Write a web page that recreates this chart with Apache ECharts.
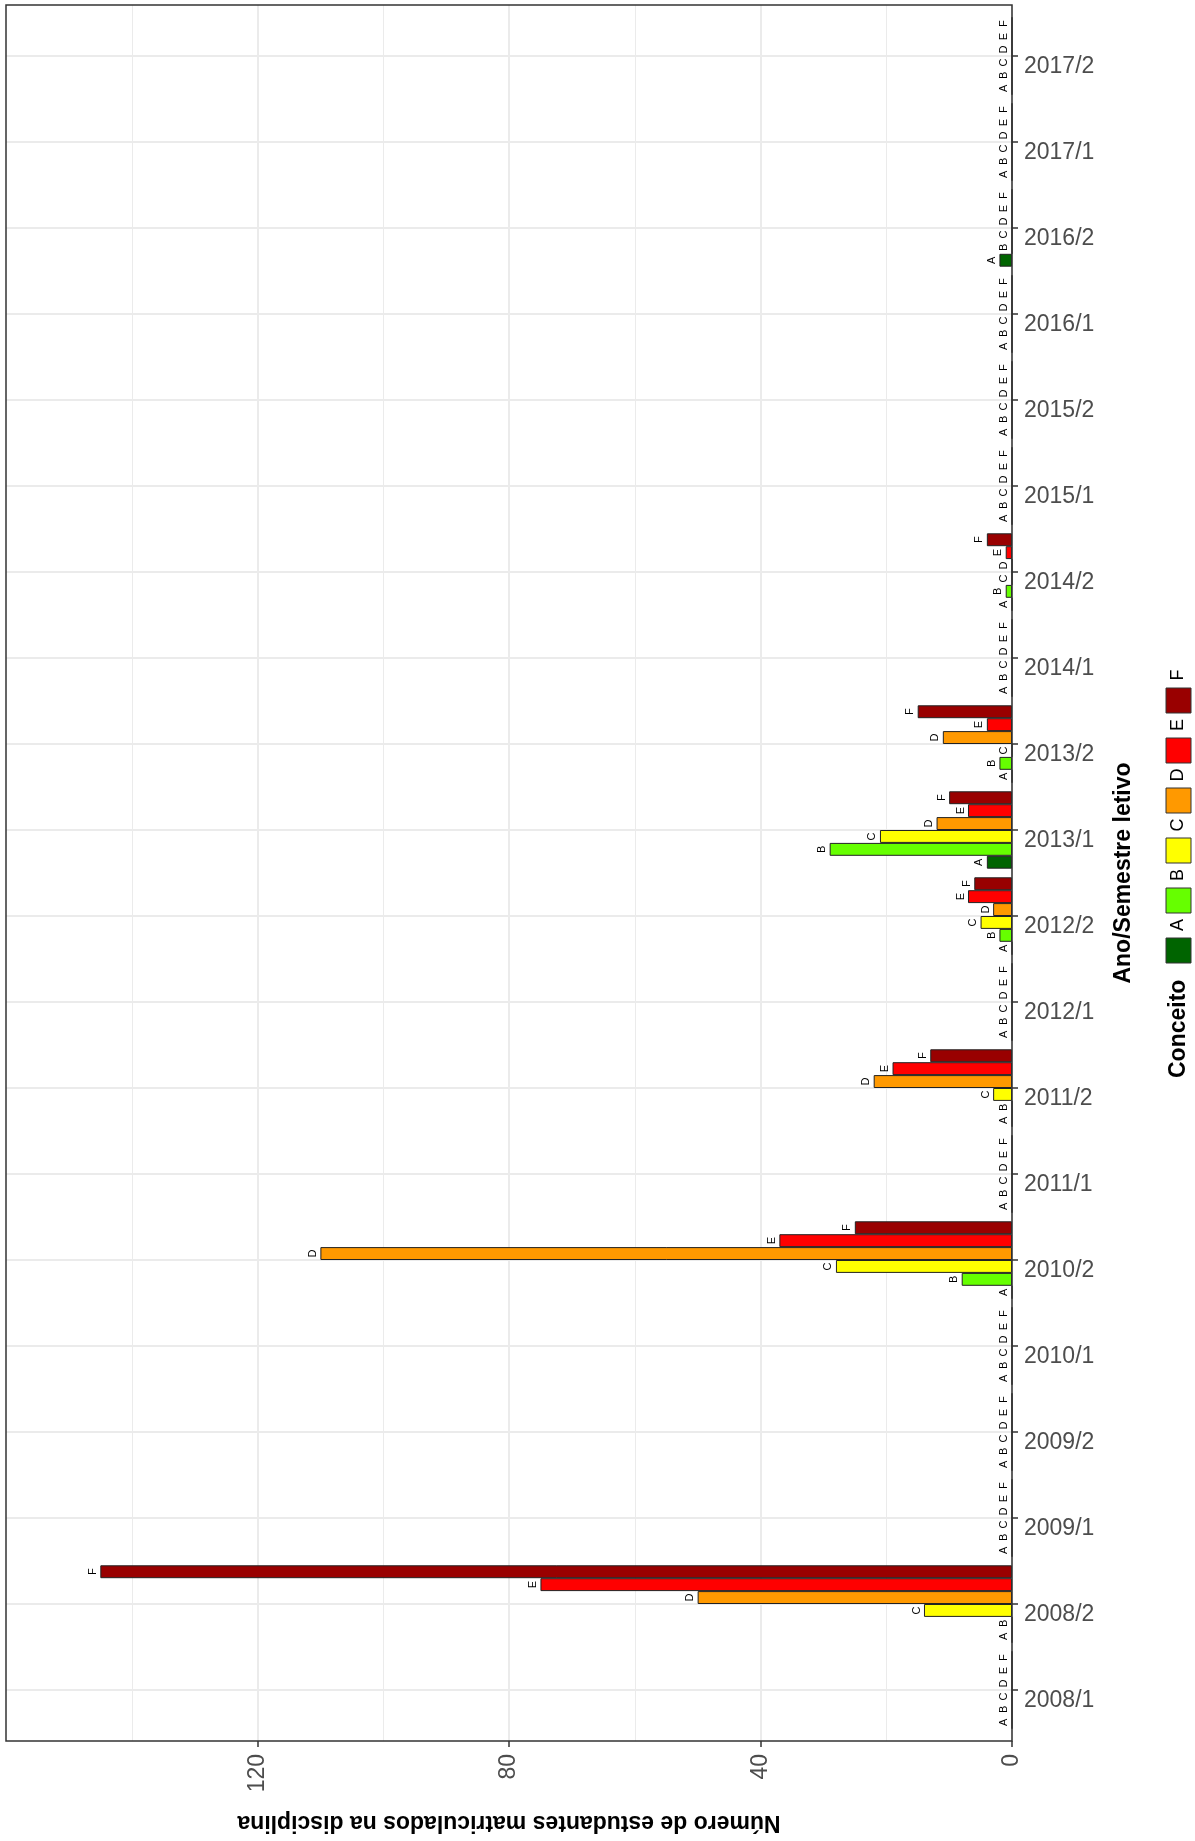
<!DOCTYPE html>
<html>
<head>
<meta charset="utf-8">
<script src="https://cdn.jsdelivr.net/npm/echarts@6/dist/echarts.min.js"></script>
<style>
html,body{margin:0;padding:0;background:#fff;}
#chart{width:1195px;height:1841px;}
</style>
</head>
<body>
<div id="chart"></div>
<script>
const semesters = ['2008/1','2008/2','2009/1','2009/2','2010/1','2010/2','2011/1','2011/2','2012/1','2012/2','2013/1','2013/2','2014/1','2014/2','2015/1','2015/2','2016/1','2016/2','2017/1','2017/2'];
const grades = ['A','B','C','D','E','F'];
const gradeColors = ['#006400','#66FF00','#FFFF00','#FF9900','#FF0000','#990000'];
const valA = [0,0,0,0,0,0,0,0,0,0,4,0,0,0,0,0,0,2,0,0];
const valB = [0,0,0,0,0,8,0,0,0,2,29,2,0,1,0,0,0,0,0,0];
const valC = [0,14,0,0,0,28,0,3,0,5,21,0,0,0,0,0,0,0,0,0];
const valD = [0,50,0,0,0,110,0,22,0,3,12,11,0,0,0,0,0,0,0,0];
const valE = [0,75,0,0,0,37,0,19,0,7,7,4,0,1,0,0,0,0,0,0];
const valF = [0,145,0,0,0,25,0,13,0,6,10,15,0,4,0,0,0,0,0,0];
const valueTicks = [0,40,80,120];
const xTitle = 'Número de estudantes matriculados na disciplina';
const yTitle = 'Ano/Semestre letivo';
const legendTitle = 'Conceito';

const seriesValues = [valA,valB,valC,valD,valE,valF];
const FONT = 'Liberation Sans, Arial, Helvetica, sans-serif';

const chart = echarts.init(document.getElementById('chart'), null, {renderer:'canvas'});

// ECharts stacks the first horizontal series at the top of each band,
// so series are added F..A to place A at the bottom (as in the reference)
const series = grades.map((g,i)=>({
  name: g,
  type: 'bar',
  xAxisIndex: 1,
  yAxisIndex: 1,
  data: seriesValues[i],
  barGap: '0%',
  barCategoryGap: '10%',
  itemStyle: {color: gradeColors[i], borderColor: '#222', borderWidth: 1},
  label: {
    show: true,
    position: 'left',
    distance: 2,
    rotate: 90,
    align: 'center',
    verticalAlign: 'bottom',
    formatter: g,
    fontSize: 11,
    fontFamily: FONT,
    color: '#000'
  },
  emphasis: {disabled: true},
  animation: false
})).reverse();

// legend built from grade arrays (rotated group)
const legendChildren = [{
  type: 'text',
  style: {text: legendTitle, x: 0, y: 12.5, align: 'left', verticalAlign: 'middle',
    fontSize: 23, fontWeight: 'bold', fontFamily: FONT, fill: '#000'}
}];
grades.forEach((g,i)=>{
  legendChildren.push({
    type: 'rect',
    shape: {x: 115 + 50*i, y: 0, width: 25, height: 25},
    style: {fill: gradeColors[i], stroke: '#333', lineWidth: 1}
  });
  legendChildren.push({
    type: 'text',
    style: {text: g, x: 153 + 50*i, y: 12.5, align: 'center', verticalAlign: 'middle',
      fontSize: 18, fontFamily: FONT, fill: '#000'}
  });
});

const option = {
  backgroundColor: '#fff',
  animation: false,
  grid: [
    {left: 6, top: 5, width: 1006, height: 1736, show: true, borderColor: '#333', borderWidth: 1.5, backgroundColor: 'transparent', containLabel: false, z: 5},
    {left: 6, top: 56, width: 1006, height: 1634, containLabel: false}
  ],
  xAxis: [
    {
      gridIndex: 0, type: 'value', inverse: true, min: 0, max: 160, interval: 40, position: 'bottom',
      axisLine: {show: false},
      axisTick: {show: true, length: 6, customValues: valueTicks, lineStyle: {color: '#333', width: 1.5}},
      axisLabel: {show: true, rotate: 90, margin: 13, fontSize: 23, fontFamily: FONT, color: '#4d4d4d',
        customValues: valueTicks,
        formatter: v => valueTicks.indexOf(v) >= 0 ? String(v) : ''},
      splitLine: {show: true, lineStyle: {color: '#ebebeb', width: 2}},
      minorTick: {show: false, splitNumber: 2},
      minorSplitLine: {show: true, lineStyle: {color: '#ebebeb', width: 1}},
      name: xTitle, nameLocation: 'middle', nameRotate: 180, nameGap: 70,
      nameTextStyle: {fontSize: 23, fontWeight: 'bold', fontFamily: FONT, color: '#000'}
    },
    {
      gridIndex: 1, type: 'value', inverse: true, min: 0, max: 160, show: false,
      splitLine: {show: false}
    }
  ],
  yAxis: [
    {gridIndex: 0, type: 'value', show: false, splitLine: {show: false}},
    {
      gridIndex: 1, type: 'category', data: semesters, position: 'right', boundaryGap: false,
      axisLine: {show: false},
      axisTick: {show: true, length: 6, lineStyle: {color: '#333', width: 1.5}},
      axisLabel: {margin: 12, fontSize: 23, fontFamily: FONT, color: '#4d4d4d', verticalAlign: 'top', lineHeight: 22},
      splitLine: {show: true, lineStyle: {color: '#ebebeb', width: 2}},
      name: yTitle, nameLocation: 'middle', nameRotate: 90, nameGap: 100,
      nameTextStyle: {fontSize: 23, fontWeight: 'bold', fontFamily: FONT, color: '#000'}
    }
  ],
  series: series,
  graphic: [{
    type: 'group', x: 1166, y: 1078, rotation: Math.PI/2, silent: true,
    children: legendChildren
  }]
};
chart.setOption(option);
</script>
</body>
</html>
